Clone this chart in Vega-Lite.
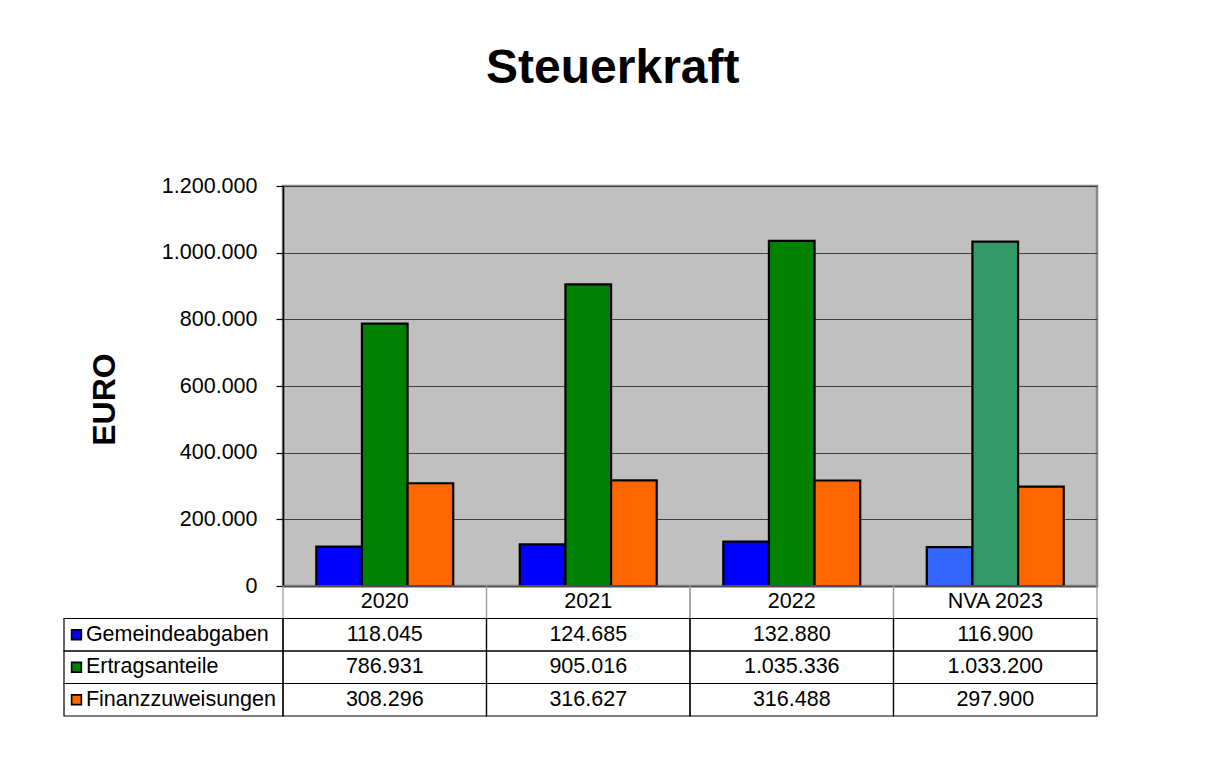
{
  "$schema": "https://vega.github.io/schema/vega-lite/v6.json",
  "padding": {"left": 63, "top": 44, "right": 10, "bottom": 10},
  "background": "white",
  "bounds": "flush",
  "spacing": 0,
  "title": {"text": "Steuerkraft", "fontSize": 48, "font": "Liberation Sans", "fontWeight": "bold", "color": "black", "anchor": "middle", "offset": 81, "dx": 32},
  "config": {
    "font": "Liberation Sans",
    "locale": {"number": {"decimal": ",", "thousands": ".", "grouping": [3], "currency": ["", " €"]}}
  },
  "data": {"values": [
    {"year": "2020", "series": "Gemeindeabgaben", "value": 118045},
    {"year": "2020", "series": "Ertragsanteile", "value": 786931},
    {"year": "2020", "series": "Finanzzuweisungen", "value": 308296},
    {"year": "2021", "series": "Gemeindeabgaben", "value": 124685},
    {"year": "2021", "series": "Ertragsanteile", "value": 905016},
    {"year": "2021", "series": "Finanzzuweisungen", "value": 316627},
    {"year": "2022", "series": "Gemeindeabgaben", "value": 132880},
    {"year": "2022", "series": "Ertragsanteile", "value": 1035336},
    {"year": "2022", "series": "Finanzzuweisungen", "value": 316488},
    {"year": "NVA 2023", "series": "Gemeindeabgaben", "value": 116900},
    {"year": "NVA 2023", "series": "Ertragsanteile", "value": 1033200},
    {"year": "NVA 2023", "series": "Finanzzuweisungen", "value": 297900}
  ]},
  "vconcat": [
    {
      "width": 814,
      "height": 400,
      "view": {"fill": "#C0C0C0", "stroke": "#888888", "strokeWidth": 2.5},
      "mark": {"type": "bar", "stroke": "black", "strokeWidth": 2.2},
      "encoding": {
        "x": {"field": "year", "type": "nominal", "sort": ["2020", "2021", "2022", "NVA 2023"],
              "scale": {"paddingInner": 0.327, "paddingOuter": 0.1635},
              "axis": {"title": null, "labels": false, "ticks": false, "domainColor": "black", "domainWidth": 1.5}},
        "xOffset": {"field": "series", "type": "nominal", "sort": ["Gemeindeabgaben", "Ertragsanteile", "Finanzzuweisungen"],
                    "scale": {"paddingInner": 0, "paddingOuter": 0}},
        "y": {"field": "value", "type": "quantitative", "scale": {"domain": [0, 1200000]},
              "axis": {"title": "EURO", "values": [0, 200000, 400000, 600000, 800000, 1000000, 1200000], "format": ",d",
                       "grid": true, "gridColor": "#404040", "gridWidth": 1, "tickColor": "black", "tickSize": 7, "tickWidth": 1.2,
                       "domainColor": "black", "domainWidth": 1.5, "labelFontSize": 21.5, "labelColor": "black", "labelPadding": 19,
                       "labelFont": "Liberation Sans", "titleFont": "Liberation Sans",
                       "titleFontSize": 32, "titleFontWeight": "bold", "titleColor": "black", "titlePadding": 40, "titleY": 213}},
        "fill": {
          "condition": [
            {"test": "datum.year === 'NVA 2023' && datum.series === 'Gemeindeabgaben'", "value": "#3366FF"},
            {"test": "datum.year === 'NVA 2023' && datum.series === 'Ertragsanteile'", "value": "#339966"}
          ],
          "field": "series", "type": "nominal",
          "scale": {"domain": ["Gemeindeabgaben", "Ertragsanteile", "Finanzzuweisungen"], "range": ["#0000FF", "#008000", "#FF6600"]},
          "legend": null
        }
      }
    },
    {
      "width": 814,
      "height": 130,
      "view": {"stroke": null},
      "layer": [
        {
          "encoding": {
            "x": {"field": "year", "type": "nominal", "sort": ["2020", "2021", "2022", "NVA 2023"],
                  "scale": {"paddingInner": 0, "paddingOuter": 0}, "axis": null}
          },
          "layer": [
            {
              "transform": [{"filter": "datum.series === 'Gemeindeabgaben'"}],
              "mark": {"type": "rect", "fill": null, "stroke": "#999999", "strokeWidth": 1.2},
              "encoding": {
                "y": {"datum": "hdr", "type": "nominal", "scale": {"domain": ["hdr", "Gemeindeabgaben", "Ertragsanteile", "Finanzzuweisungen"], "paddingInner": 0, "paddingOuter": 0}, "axis": null}
              }
            },
            {
              "transform": [{"filter": "datum.series === 'Gemeindeabgaben'"}],
              "mark": {"type": "text", "fontSize": 21.5, "color": "black", "font": "Liberation Sans"},
              "encoding": {
                "y": {"datum": "hdr", "type": "nominal", "axis": null},
                "text": {"field": "year", "type": "nominal"}
              }
            },
            {
              "mark": {"type": "rect", "fill": null, "stroke": "black", "strokeWidth": 1.2},
              "encoding": {
                "y": {"field": "series", "type": "nominal", "axis": null}
              }
            },
            {
              "mark": {"type": "text", "fontSize": 21.5, "color": "black", "font": "Liberation Sans"},
              "encoding": {
                "y": {"field": "series", "type": "nominal", "axis": null},
                "text": {"field": "value", "type": "quantitative", "format": ",d"}
              }
            }
          ]
        },
        {
          "transform": [{"filter": "datum.year === '2020'"}],
          "layer": [
            {
              "mark": {"type": "rect", "fill": null, "stroke": "black", "strokeWidth": 1.2},
              "encoding": {
                "x": {"datum": "L", "type": "nominal", "scale": {"domain": ["L"], "range": [-219, 0], "paddingInner": 0, "paddingOuter": 0}, "axis": null},
                "y": {"field": "series", "type": "nominal", "axis": null}
              }
            },
            {
              "mark": {"type": "point", "shape": "square", "filled": true, "size": 95, "stroke": "black", "strokeWidth": 1.6, "opacity": 1},
              "encoding": {
                "x": {"datum": "L", "type": "nominal", "bandPosition": 0.057, "axis": null},
                "y": {"field": "series", "type": "nominal", "axis": null},
                "fill": {"field": "series", "type": "nominal", "legend": null}
              }
            },
            {
              "mark": {"type": "text", "fontSize": 21.5, "color": "black", "align": "left", "font": "Liberation Sans"},
              "encoding": {
                "x": {"datum": "L", "type": "nominal", "bandPosition": 0.1, "axis": null},
                "y": {"field": "series", "type": "nominal", "axis": null},
                "text": {"field": "series", "type": "nominal"}
              }
            }
          ]
        }
      ],
      "resolve": {"scale": {"x": "independent"}}
    }
  ]
}
